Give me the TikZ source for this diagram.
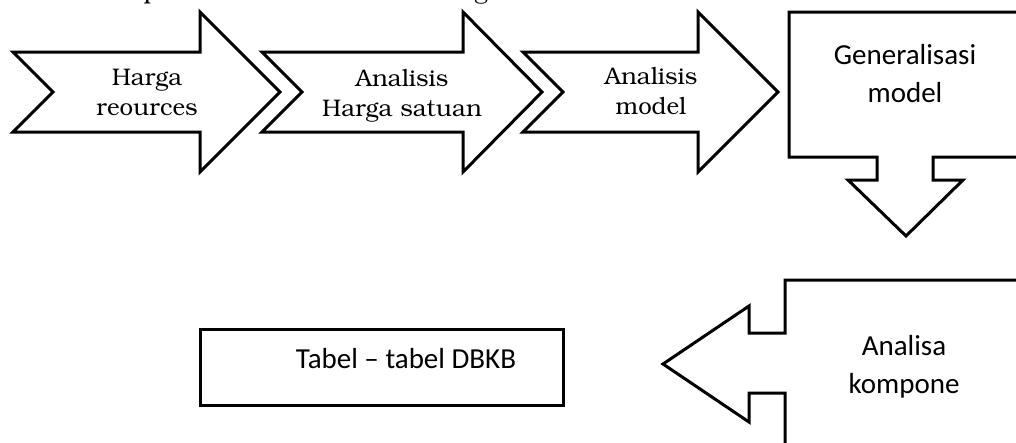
\documentclass[tikz,border=0pt]{standalone}
\usepackage[T1]{fontenc}
\usepackage{fontspec}
\newfontfamily\calib{Carlito}
\newcommand\bkfont{\fontencoding{T1}\fontfamily{pbk}\selectfont}
\begin{document}
\begin{tikzpicture}[x=1pt,y=-1pt,
  shapeline/.style={draw=black,line width=3pt,fill=white,line join=miter},
  serifl/.style={align=center,anchor=base,font=\bkfont\fontsize{24}{30}\selectfont},
  sansl/.style={align=center,anchor=base,font=\calib\fontsize{29}{38}\selectfont}]
\useasboundingbox (0,0) rectangle (1016,442);
\clip (0,0) rectangle (1016,442);
% clipped heading fragments
\node[anchor=base,inner sep=0pt,font=\bkfont\fontsize{24}{30}\selectfont] (fp) at (151,-2) {p};
\node[anchor=base,inner sep=0pt,font=\bkfont\fontsize{24}{30}\selectfont] (fg) at (481,-2) {g};
% arrows
\draw[shapeline] (13,52) -- (200,52) -- (200,12) -- (280,92) -- (200,172) -- (200,132) -- (13,132) -- (53,92) -- cycle;
\draw[shapeline] (262,52) -- (463,52) -- (463,12) -- (542,92) -- (463,172) -- (463,132) -- (262,132) -- (302,92) -- cycle;
\draw[shapeline] (523,52) -- (698,52) -- (698,12) -- (778,92) -- (698,172) -- (698,132) -- (523,132) -- (563,92) -- cycle;
% generalisasi box with down arrow
\draw[shapeline] (789,12) -- (1030,12) -- (1030,157) -- (933,157) -- (933,180) -- (963,180) -- (906,236) -- (848,180) -- (877,180) -- (877,157) -- (789,157) -- cycle;
% analisa box with left arrow
\draw[shapeline] (785,280) -- (1030,280) -- (1030,470) -- (785,470) -- (785,393) -- (749,393) -- (749,422) -- (663,364) -- (749,306) -- (749,333) -- (785,333) -- cycle;
% tabel box
\draw[shapeline] (200,329) rectangle (563,405);
% labels (base = baseline of last line)
\node[serifl] (t1) at (147,115) {Harga\\reources};
\node[serifl] (t2) at (402,116) {Analisis\\Harga satuan};
\node[serifl] (t3) at (651,114) {Analisis\\model};
\node[sansl] (t4) at (905,102) {Generalisasi\\model};
\node[sansl] (t5) at (904,393) {Analisa\\kompone};
\node[sansl] (t6) at (406,368) {Tabel – tabel DBKB};
\end{tikzpicture}
\end{document}
